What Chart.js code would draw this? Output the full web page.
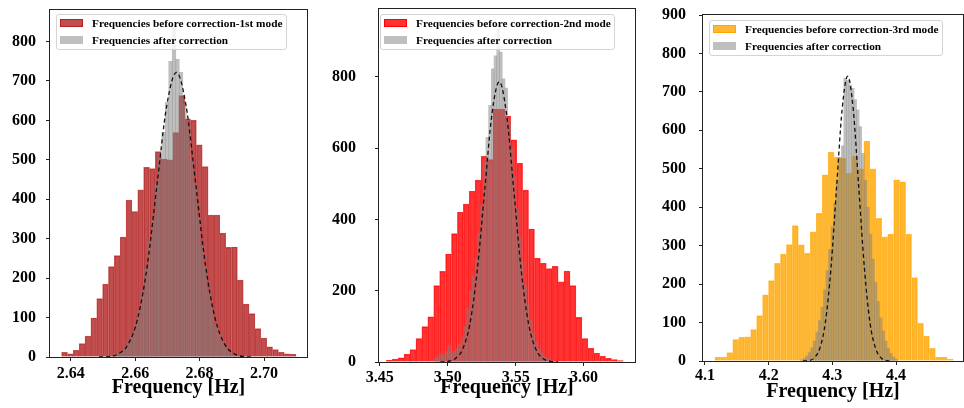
<!DOCTYPE html>
<html>
<head>
<meta charset="utf-8">
<script src="https://cdn.jsdelivr.net/npm/chart.js@4.4.1/dist/chart.umd.min.js"></script>
<style>
  body { margin: 0; background: #fff; }
  #wrap { position: relative; width: 964px; height: 408px; overflow: hidden; }
  canvas { position: absolute; top: 0; }
  .legend {
    position: absolute; box-sizing: border-box;
    background: rgba(255, 255, 255, 0.8);
    border: 1px solid #d4d4d4; border-radius: 3px;
    font: bold 11.3px "Liberation Serif", "Times New Roman", serif; color: #000;
  }
  .legend .row { display: flex; align-items: center; height: 16.5px; padding-left: 3px; white-space: nowrap; }
  .legend .sw { width: 23px; height: 8px; margin-right: 9px; box-sizing: border-box; }
</style>
</head>
<body>
<div id="wrap">
  <canvas id="c1" width="320" height="408" style="left:0"></canvas>
  <canvas id="c2" width="322" height="408" style="left:320px"></canvas>
  <canvas id="c3" width="322" height="408" style="left:642px"></canvas>

  <div class="legend" style="left:56px;top:14px;width:231px;height:36px">
    <div class="row"><span class="sw" style="background:rgba(178,34,34,0.8);border:1px solid #b22222"></span>Frequencies before correction-1st mode</div>
    <div class="row"><span class="sw" style="background:rgba(128,128,128,0.5)"></span>Frequencies after correction</div>
  </div>
  <div class="legend" style="left:380px;top:14px;width:235px;height:36px">
    <div class="row"><span class="sw" style="background:rgba(255,0,0,0.8);border:1px solid #f00"></span>Frequencies before correction-2nd mode</div>
    <div class="row"><span class="sw" style="background:rgba(128,128,128,0.5)"></span>Frequencies after correction</div>
  </div>
  <div class="legend" style="left:709px;top:20px;width:234px;height:36px">
    <div class="row"><span class="sw" style="background:rgba(255,165,0,0.8);border:1px solid #ffa500"></span>Frequencies before correction-3rd mode</div>
    <div class="row"><span class="sw" style="background:rgba(128,128,128,0.5)"></span>Frequencies after correction</div>
  </div>
</div>

<script>
// ---- 1st mode ----
const p1RedStart = 2.6372;
const p1RedWidth = 0.001817;
const p1Red = [12, 8, 17, 34, 53, 99, 148, 185, 229, 257, 304, 398, 369, 424, 481, 478, 521, 502, 500, 569,
  663, 604, 600, 538, 483, 360, 360, 314, 278, 279, 195, 134, 110, 72, 48, 26, 19, 12, 8, 7];
const p1GrayStart = 2.651;
const p1GrayWidth = 0.00108;
const p1Gray = [1, 3, 5, 9, 14, 24, 37, 58, 82, 120, 168, 225, 292, 355, 440, 510, 570, 646, 750, 838,
  755, 722, 640, 590, 500, 440, 355, 280, 228, 170, 120, 82, 60, 38, 22, 12, 7, 4, 2, 1];
const p1CurveX = [2.6488, 2.6518, 2.6548, 2.6578, 2.6608, 2.6638, 2.6668, 2.6698, 2.6728,
  2.6758, 2.6788, 2.6818, 2.6848, 2.6878, 2.6908, 2.6938, 2.6968];
const p1CurveY = [0, 1, 8, 32, 98, 234, 438, 637, 722, 637, 438, 234, 98, 32, 8, 1, 0];
const p1XTicks = [2.64, 2.66, 2.68, 2.70];
const p1YTicks = [0, 100, 200, 300, 400, 500, 600, 700, 800];

// ---- 2nd mode ----
const p2RedStart = 3.4549;
const p2RedWidth = 0.00435;
const p2Red = [5, 8, 12, 22, 35, 66, 99, 127, 214, 254, 303, 360, 420, 443, 479, 510, 577, 568, 709, 709,
  690, 623, 557, 482, 373, 291, 277, 262, 268, 225, 255, 214, 125, 66, 38, 25, 16, 10, 7, 4];
const p2GrayStart = 3.49;
const p2GrayWidth = 0.002;
const p2Gray = [10, 15, 22, 18, 30, 47, 28, 30, 38, 50, 70, 100, 150, 200, 240, 290, 360, 440, 560, 630,
  720, 822, 859, 936, 869, 794, 768, 680, 600, 520, 430, 350, 280, 215, 160, 115, 80, 55, 38, 25,
  16, 10, 6, 3, 2];
const p2CurveX = [3.4946, 3.5, 3.5054, 3.5108, 3.5162, 3.5216, 3.527, 3.5324, 3.5378,
  3.5432, 3.5486, 3.554, 3.5594, 3.5648, 3.5702, 3.5756, 3.581];
const p2CurveY = [0, 2, 9, 35, 106, 255, 477, 694, 786, 694, 477, 255, 106, 35, 9, 2, 0];
const p2XTicks = [3.45, 3.50, 3.55, 3.60];
const p2YTicks = [0, 200, 400, 600, 800];

// ---- 3rd mode ----
const p3RedStart = 4.1157;
const p3RedWidth = 0.00935;
const p3Red = [10, 10, 22, 56, 62, 63, 82, 118, 172, 209, 254, 278, 303, 352, 302, 280, 336, 384, 484, 543,
  530, 527, 488, 533, 500, 572, 500, 371, 323, 330, 471, 466, 330, 217, 98, 65, 33, 10, 10, 5];
const p3GrayStart = 4.25;
const p3GrayWidth = 0.004;
const p3Gray = [3, 7, 13, 22, 35, 52, 75, 105, 140, 185, 235, 290, 350, 410, 470, 530, 560, 736, 730, 718,
  709, 680, 653, 610, 540, 470, 400, 330, 265, 205, 155, 112, 78, 52, 33, 20, 11, 5];
const p3CurveX = [4.254, 4.2628, 4.2715, 4.2803, 4.289, 4.2978, 4.3065, 4.3153, 4.324,
  4.3328, 4.3415, 4.3503, 4.359, 4.3678, 4.3765, 4.3853, 4.394];
const p3CurveY = [0, 1, 8, 33, 100, 241, 449, 654, 741, 654, 449, 241, 100, 33, 8, 1, 0];
const p3XTicks = [4.1, 4.2, 4.3, 4.4];
const p3YTicks = [0, 100, 200, 300, 400, 500, 600, 700, 800, 900];

Chart.defaults.font.family = "'Liberation Serif', 'Times New Roman', serif";
Chart.defaults.color = "#000";

// helpers
const binPoints = (start, width, counts) =>
  counts.map((c, i) => ({ x: start + width * (i + 0.5), y: c }));
const curvePoints = (xs, ys) => xs.map((x, i) => ({ x: x, y: ys[i] }));

// frame around the plot area, like the matplotlib spines
const boxPlugin = {
  id: "box",
  afterDraw(chart) {
    const { ctx, chartArea: a } = chart;
    ctx.save();
    ctx.strokeStyle = "#222";
    ctx.lineWidth = 1;
    ctx.strokeRect(Math.round(a.left) - 0.5, Math.round(a.top) - 0.5,
      Math.round(a.width) + 1, Math.round(a.height) + 1);
    ctx.restore();
  },
};

const tickFont = { size: 16, weight: "bold" };

const makePanel = (id, p) => {
  const ctx = document.getElementById(id).getContext("2d");
  return new Chart(ctx, {
    type: "bar",
    data: {
      datasets: [
        {
          type: "line",
          data: curvePoints(p.curveX, p.curveY),
          borderColor: "#111",
          borderWidth: 1.3,
          borderDash: [4, 3],
          pointRadius: 0,
          fill: false,
          cubicInterpolationMode: "monotone",
          xAxisID: "x",
          order: 0,
        },
        {
          data: binPoints(p.grayStart, p.grayWidth, p.gray),
          backgroundColor: "rgba(128,128,128,0.5)",
          borderWidth: 0,
          grouped: false,
          barPercentage: 1,
          categoryPercentage: 1,
          xAxisID: "x2",
          order: 1,
        },
        {
          data: binPoints(p.redStart, p.redWidth, p.red),
          backgroundColor: p.face,
          borderColor: p.edge,
          borderWidth: 0.7,
          grouped: false,
          barPercentage: 1,
          categoryPercentage: 1,
          xAxisID: "x",
          order: 2,
        },
      ],
    },
    options: {
      responsive: false,
      animation: false,
      devicePixelRatio: 1,
      layout: { padding: { left: 0, top: p.top, right: p.right, bottom: 0 } },
      plugins: { legend: { display: false }, tooltip: { enabled: false } },
      scales: {
        x: {
          type: "linear",
          min: p.xMin,
          max: p.xMax,
          offset: false,
          border: { display: false },
          grid: { offset: false, drawOnChartArea: false, tickLength: 4, color: "#222" },
          afterBuildTicks: (axis) => { axis.ticks = p.xTicks.map((v) => ({ value: v })); },
          ticks: {
            font: tickFont,
            padding: p.xPad,
            maxRotation: 0,
            callback: (v) => v.toFixed(p.digits),
          },
          title: {
            display: true,
            text: "Frequency [Hz]",
            font: { size: 20, weight: "bold" },
            padding: { top: 0, bottom: p.titlePad },
          },
          afterFit: (s) => { s.height = p.xH; },
        },
        x2: { type: "linear", min: p.xMin, max: p.xMax, offset: false, display: false },
        y: {
          min: 0,
          max: p.yMax,
          border: { display: false },
          grid: { drawOnChartArea: false, tickLength: 4, color: "#222" },
          afterBuildTicks: (axis) => { axis.ticks = p.yTicks.map((v) => ({ value: v })); },
          ticks: { font: tickFont, padding: p.yPad },
          // fixed width, and no extra room asked for above / below the plot
          afterFit: (s) => { s.width = p.yW; s.paddingTop = 0; s.paddingBottom = 0; },
        },
      },
    },
    plugins: [boxPlugin],
  });
};

makePanel("c1", {
  red: p1Red, redStart: p1RedStart, redWidth: p1RedWidth,
  gray: p1Gray, grayStart: p1GrayStart, grayWidth: p1GrayWidth,
  curveX: p1CurveX, curveY: p1CurveY, xTicks: p1XTicks, yTicks: p1YTicks,
  face: "rgba(178,34,34,0.8)", edge: "rgba(205,95,95,1)",
  xMin: 2.6336, xMax: 2.7133, yMax: 880, digits: 2,
  top: 10, right: 13, yW: 50, xH: 51, yPad: 10, xPad: 3, titlePad: 8,
});

makePanel("c2", {
  red: p2Red, redStart: p2RedStart, redWidth: p2RedWidth,
  gray: p2Gray, grayStart: p2GrayStart, grayWidth: p2GrayWidth,
  curveX: p2CurveX, curveY: p2CurveY, xTicks: p2XTicks, yTicks: p2YTicks,
  face: "rgba(255,0,0,0.8)", edge: "rgba(255,70,70,1)",
  xMin: 3.4495, xMax: 3.6375, yMax: 990, digits: 2,
  top: 9, right: 7, yW: 59, xH: 46, yPad: 19, xPad: 2, titlePad: 8,
});

makePanel("c3", {
  red: p3Red, redStart: p3RedStart, redWidth: p3RedWidth,
  gray: p3Gray, grayStart: p3GrayStart, grayWidth: p3GrayWidth,
  curveX: p3CurveX, curveY: p3CurveY, xTicks: p3XTicks, yTicks: p3YTicks,
  face: "rgba(255,165,0,0.8)", edge: "rgba(255,200,90,1)",
  xMin: 4.097, xMax: 4.505, yMax: 900, digits: 1,
  top: 15, right: 1, yW: 61, xH: 47, yPad: 13, xPad: 1, titlePad: 4,
});
</script>
</body>
</html>
